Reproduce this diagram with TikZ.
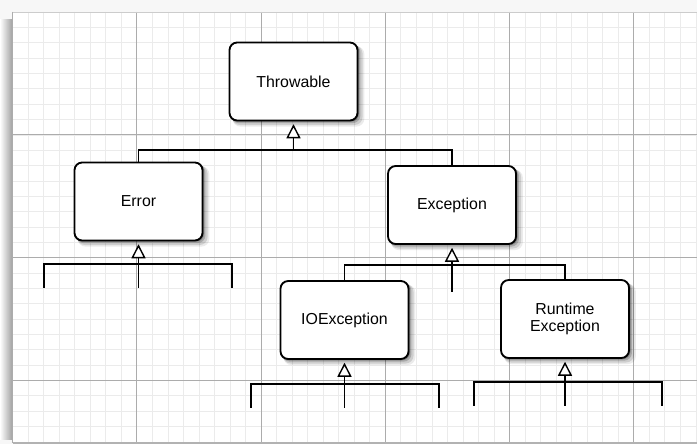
\documentclass[tikz,border=0pt]{standalone}
\usepackage{fontspec}
\setmainfont{Liberation Sans}
\usetikzlibrary{arrows.meta,shadows}

\begin{document}
\begin{tikzpicture}[x=0.025cm, y=-0.025cm, line width=0.9pt,
  cls/.style={draw, line width=1.3pt, rounded corners=5.5pt, fill=white,
    minimum width=3.2cm, minimum height=1.95cm, align=center,
    font=\fontsize{11.3}{12.2}\selectfont,
    general shadow={fill=black, opacity=.25, shadow xshift=0.6pt, shadow yshift=-0.6pt, shadow scale=1.01},
    general shadow={fill=black, opacity=.18, shadow xshift=1.6pt, shadow yshift=-1.6pt, shadow scale=1.01},
    general shadow={fill=black, opacity=.12, shadow xshift=2.6pt, shadow yshift=-2.6pt, shadow scale=1.02},
    general shadow={fill=black, opacity=.08, shadow xshift=3.4pt, shadow yshift=-3.4pt, shadow scale=1.03}},
  inherit/.style={-{Triangle[fill=white, length=10pt, width=10pt, line width=1pt]}, shorten >=2pt},
  minor/.style={gray!16, line width=0.4pt},
  major/.style={gray!65, line width=0.5pt}]
  \def\gx{12.5}\def\gy{12}
  \useasboundingbox (0,0) rectangle (697,444);
  \fill[gray!6] (0,0) rectangle (697,444);
  \fill[white] (\gx,\gy) rectangle (697,443);
  \shade[left color=white, right color=gray!75] (0,20) rectangle (\gx,440);
  \foreach \i in {0,...,44} \draw[minor] ({\gx+\i*15.53},\gy) -- ({\gx+\i*15.53},443);
  \foreach \j in {0,...,28} \draw[minor] (\gx,{\gy+\j*15.35}) -- (697,{\gy+\j*15.35});
  \foreach \i in {0,...,5} \draw[major] ({\gx+\i*124.25},\gy) -- ({\gx+\i*124.25},443);
  \foreach \j in {0,...,3} \draw[major] (\gx,{\gy+\j*122.8}) -- (697,{\gy+\j*122.8});
  \draw[gray!60, line width=0.8pt] (\gx,443) -- (697,443);
  \draw[gray!40, line width=0.6pt] (\gx,\gy) -- (697,\gy);

  \node[cls] (throwable) at (293.5,81.5) {Throwable};
  \node[cls] (error) at (138.5,201.5) {Error};
  \node[cls] (exception) at (452,205) {Exception};
  \node[cls] (ioex) at (344.5,320) {IOException};
  \node[cls] (runtime) at (565,319) {Runtime\\Exception};

  \coordinate (tbar) at (293.5,150);
  \draw (error.north) |- (tbar) -| (exception.north);
  \draw[inherit] (tbar) -- (throwable.south);

  \coordinate (eb) at (138.5,264);
  \coordinate (e1) at (44,288);
  \coordinate (e2) at (138.5,288);
  \coordinate (e3) at (232,288);
  \draw (e1) |- (eb) -| (e3);
  \draw[inherit] (e2) -- (error.south);

  \coordinate (xb) at (452,265);
  \coordinate (x2) at (452,292);
  \draw (ioex.north) |- (xb) -| (runtime.north);
  \draw[inherit] (x2) -- (exception.south);

  \coordinate (ib) at (344.5,384);
  \coordinate (i1) at (251,408);
  \coordinate (i2) at (344.5,408);
  \coordinate (i3) at (439,408);
  \draw (i1) |- (ib) -| (i3);
  \draw[inherit] (i2) -- (ioex.south);

  \coordinate (rb) at (565,382);
  \coordinate (r1) at (474,406);
  \coordinate (r2) at (565,406);
  \coordinate (r3) at (662,406);
  \draw (r1) |- (rb) -| (r3);
  \draw[inherit] (r2) -- (runtime.south);
\end{tikzpicture}
\end{document}
